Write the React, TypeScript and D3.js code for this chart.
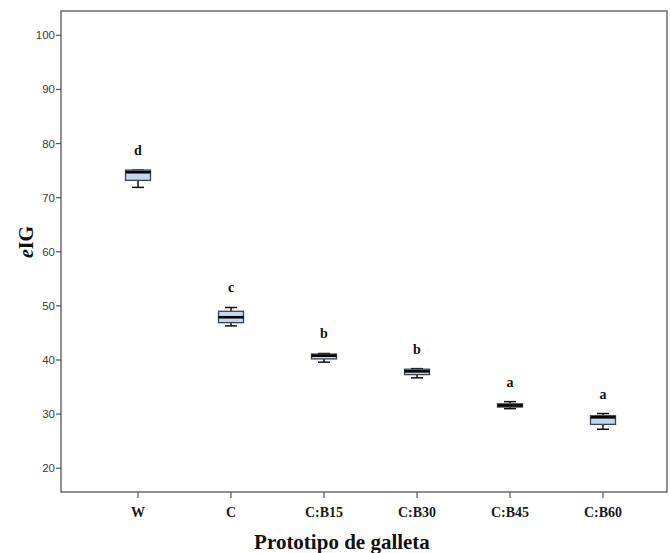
import React from "react";
import * as d3 from "d3";

// Boxplot of eIG by cookie prototype
const categories = ["W", "C", "C:B15", "C:B30", "C:B45", "C:B60"];
const whiskerLow = [71.9, 46.3, 39.6, 36.7, 31.0, 27.2];
const quartile1 = [73.2, 46.9, 40.2, 37.3, 31.3, 28.1];
const medians = [74.7, 47.9, 40.8, 37.9, 31.6, 29.4];
const quartile3 = [75.1, 49.0, 41.1, 38.3, 31.9, 29.7];
const whiskerHigh = [75.1, 49.7, 41.2, 38.4, 32.3, 30.1];
const groupLetters = ["d", "c", "b", "b", "a", "a"];
const yTicks = [20, 30, 40, 50, 60, 70, 80, 90, 100];

const W = 670;
const H = 553;
const frame = { left: 61, top: 11, right: 667, bottom: 492 };

export default function App() {
  const y = d3.scaleLinear().domain([15.6, 104.5]).range([frame.bottom, frame.top]);
  const x = d3.scalePoint<string>().domain(categories).range([138, 603]);

  const boxW = 25;
  const capW = 12;
  const serif = "'Liberation Serif', 'Times New Roman', serif";
  const sans = "'Liberation Sans', Arial, sans-serif";

  return (
    <svg
      width={W}
      height={H}
      style={{ position: "absolute", left: 0, top: 0, background: "#fff" }}
    >
      {/* plot frame */}
      <rect
        x={frame.left}
        y={frame.top}
        width={frame.right - frame.left}
        height={frame.bottom - frame.top}
        fill="none"
        stroke="#555"
        strokeWidth={1.3}
      />

      {/* y axis ticks */}
      {yTicks.map((t) => (
        <g key={t}>
          <line x1={frame.left - 5} x2={frame.left} y1={y(t)} y2={y(t)} stroke="#555" strokeWidth={1.2} />
          <text
            x={frame.left - 6}
            y={y(t)}
            dy="0.35em"
            textAnchor="end"
            fontFamily={sans}
            fontSize={11.5}
            fill="#3c3c3c"
          >
            {t}
          </text>
        </g>
      ))}

      {/* x axis ticks */}
      {categories.map((c) => (
        <g key={c}>
          <line x1={x(c)} x2={x(c)} y1={frame.bottom} y2={frame.bottom + 6} stroke="#555" strokeWidth={1.2} />
          <text
            x={x(c)}
            y={frame.bottom + 25}
            textAnchor="middle"
            fontFamily={serif}
            fontWeight="bold"
            fontSize={14}
            fill="#1a1a1a"
          >
            {c}
          </text>
        </g>
      ))}

      {/* boxes */}
      {categories.map((c, i) => {
        const cx = x(c) as number;
        return (
          <g key={"b" + c}>
            <line x1={cx} x2={cx} y1={y(whiskerLow[i])} y2={y(quartile1[i])} stroke="#111" strokeWidth={1.5} />
            <line x1={cx} x2={cx} y1={y(whiskerHigh[i])} y2={y(quartile3[i])} stroke="#111" strokeWidth={1.5} />
            <line x1={cx - capW / 2} x2={cx + capW / 2} y1={y(whiskerLow[i])} y2={y(whiskerLow[i])} stroke="#111" strokeWidth={1.5} />
            <line x1={cx - capW / 2} x2={cx + capW / 2} y1={y(whiskerHigh[i])} y2={y(whiskerHigh[i])} stroke="#111" strokeWidth={1.5} />
            <rect
              x={cx - boxW / 2}
              y={y(quartile3[i])}
              width={boxW}
              height={y(quartile1[i]) - y(quartile3[i])}
              fill="#c3d8f0"
              stroke="#3a4250"
              strokeWidth={1.3}
            />
            <line x1={cx - boxW / 2} x2={cx + boxW / 2} y1={y(medians[i])} y2={y(medians[i])} stroke="#000" strokeWidth={2.6} />
            <text
              x={cx}
              y={y(whiskerHigh[i]) - 15}
              textAnchor="middle"
              fontFamily={serif}
              fontWeight="bold"
              fontSize={14}
              fill="#111"
            >
              {groupLetters[i]}
            </text>
          </g>
        );
      })}

      {/* axis titles */}
      <text
        transform={`translate(33, ${242}) rotate(-90)`}
        textAnchor="middle"
        fontFamily={serif}
        fontWeight="bold"
        fontSize={20}
        fill="#111"
      >
        <tspan fontStyle="italic">e</tspan>IG
      </text>
      <text
        x={342}
        y={549}
        textAnchor="middle"
        fontFamily={serif}
        fontWeight="bold"
        fontSize={21}
        fill="#111"
      >
        Prototipo de galleta
      </text>
    </svg>
  );
}
